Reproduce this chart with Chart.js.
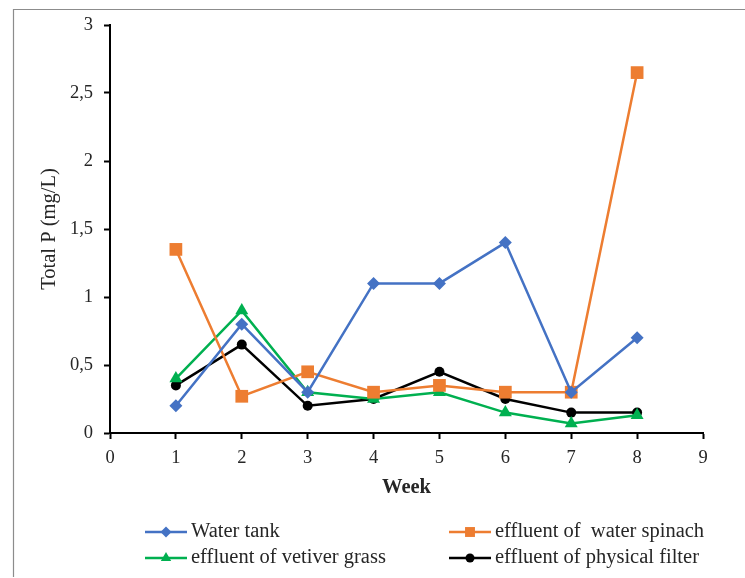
<!DOCTYPE html>
<html>
<head>
<meta charset="utf-8">
<script src="https://cdn.jsdelivr.net/npm/chart.js@4"></script>
<style>
  html, body { margin: 0; padding: 0; background: #fff; }
  #wrap { width: 745px; height: 578px; position: relative; }
</style>
</head>
<body>
<div id="wrap"><canvas id="chart" width="745" height="578"></canvas></div>
<script>
// weeks on the x axis
const weeks = [1, 2, 3, 4, 5, 6, 7, 8];

// Total P (mg/L)
const waterTank = [0.2, 0.8, 0.3, 1.1, 1.1, 1.4, 0.3, 0.7];
const waterSpinach = [1.35, 0.27, 0.45, 0.3, 0.35, 0.3, 0.3, 2.65];
const vetiverGrass = [0.4, 0.9, 0.3, 0.25, 0.3, 0.15, 0.07, 0.13];
const physicalFilter = [0.35, 0.65, 0.2, 0.25, 0.45, 0.25, 0.15, 0.15];

const seriesNames = [
    "Water tank",
    "effluent of  water spinach",
    "effluent of vetiver grass",
    "effluent of physical filter"
];

const FONT = "'Liberation Serif', 'Times New Roman', serif";
const TEXT = "#262626";

function series(name, values, color, style, radius, legendRadius) {
    return {
        label: name,
        data: weeks.map((w, i) => ({ x: w, y: values[i] })),
        borderColor: color,
        backgroundColor: color,
        borderWidth: 2.5,
        pointStyle: style,
        pointRadius: radius,
        pointHoverRadius: radius,
        pointBorderWidth: 0,
        legendRadius: legendRadius,
        tension: 0,
        clip: false
    };
}

// the frame round the figure: top and left edge only
const frame = {
    id: "frame",
    beforeDraw(chart) {
        const ctx = chart.ctx;
        ctx.save();
        ctx.strokeStyle = "#8c8c8c";
        ctx.lineWidth = 1.2;
        ctx.beginPath();
        ctx.moveTo(745, 9.5);
        ctx.lineTo(13.5, 9.5);
        ctx.lineTo(13.5, 577);
        ctx.stroke();
        ctx.restore();
    }
};

// two column legend under the axis
const legend2col = {
    id: "legend2col",
    afterDraw(chart) {
        const ctx = chart.ctx;
        const cols = [145, 449];
        const rows = [532, 558];
        ctx.save();
        chart.data.datasets.forEach((ds, i) => {
            const x = cols[i % 2];
            const y = rows[Math.floor(i / 2)];
            ctx.strokeStyle = ds.borderColor;
            ctx.lineWidth = 2.5;
            ctx.beginPath();
            ctx.moveTo(x, y);
            ctx.lineTo(x + 42, y);
            ctx.stroke();
            ctx.fillStyle = ds.backgroundColor;
            Chart.helpers.drawPoint(ctx, {
                pointStyle: ds.pointStyle,
                radius: ds.legendRadius,
                rotation: 0,
                borderWidth: 0
            }, x + 21, y);
            ctx.fillStyle = TEXT;
            ctx.font = "20.5px " + FONT;
            ctx.textBaseline = "middle";
            ctx.textAlign = "left";
            ctx.fillText(ds.label, x + 46, y);
        });
        ctx.restore();
    }
};

new Chart("chart", {
    type: "line",
    data: {
        datasets: [
            series(seriesNames[0], waterTank, "#4472C4", "rectRot", 6.5, 5.5),
            series(seriesNames[1], waterSpinach, "#ED7D31", "rect", 9, 7),
            series(seriesNames[2], vetiverGrass, "#00B050", "triangle", 7.5, 6),
            series(seriesNames[3], physicalFilter, "#000000", "circle", 5, 4.5)
        ]
    },
    options: {
        responsive: false,
        animation: false,
        layout: {
            padding: { left: 30, top: 25, right: 42, bottom: 75 }
        },
        plugins: {
            legend: { display: false },
            tooltip: { enabled: false }
        },
        scales: {
            x: {
                type: "linear",
                min: 0,
                max: 9,
                afterFit: (scale) => { scale.height = 70; },
                ticks: {
                    stepSize: 1,
                    padding: 8,
                    color: TEXT,
                    font: { family: FONT, size: 18.5 }
                },
                grid: {
                    drawOnChartArea: false,
                    drawTicks: true,
                    tickLength: 6,
                    tickWidth: 2,
                    tickColor: "#000"
                },
                border: { color: "#000", width: 2 },
                title: {
                    display: true,
                    text: "Week",
                    color: TEXT,
                    padding: { top: 0, bottom: 3 },
                    font: { family: FONT, size: 20.5, weight: "bold" }
                }
            },
            y: {
                min: 0,
                max: 3,
                afterFit: (scale) => { scale.width = 80; },
                ticks: {
                    stepSize: 0.5,
                    padding: 11,
                    color: TEXT,
                    font: { family: FONT, size: 18.5 },
                    callback: (value) => String(value).replace(".", ",")
                },
                grid: {
                    drawOnChartArea: false,
                    drawTicks: true,
                    tickLength: 6,
                    tickWidth: 2,
                    tickColor: "#000"
                },
                border: { color: "#000", width: 2 },
                title: {
                    display: true,
                    text: "Total P (mg/L)",
                    color: TEXT,
                    padding: { top: 7, bottom: 0 },
                    font: { family: FONT, size: 20.5 }
                }
            }
        }
    },
    plugins: [frame, legend2col]
});
</script>
</body>
</html>
